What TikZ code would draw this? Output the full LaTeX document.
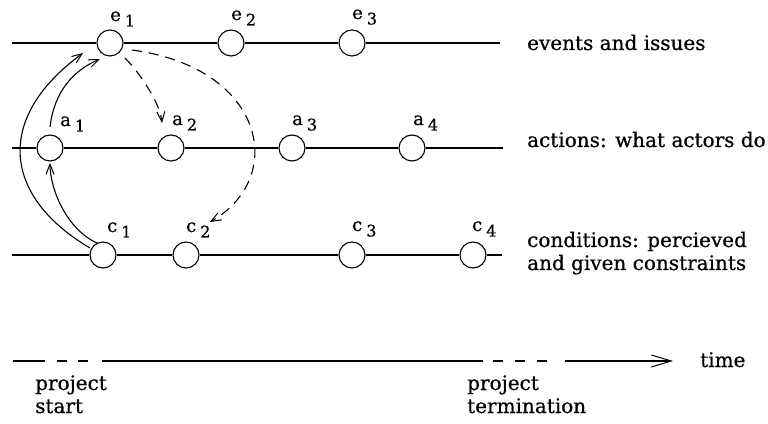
\documentclass[tikz,border=0pt]{standalone}
\usepackage{fontspec}
\setmainfont{DejaVu Serif}[FakeBold=0.6]
\usetikzlibrary{arrows.meta,calc}
\newcommand\evlab[2]{#1\kern4pt\raisebox{-5.5pt}{\fontsize{16}{18}\selectfont #2}}
\begin{document}
\begin{tikzpicture}[x=1pt,y=1pt,
  ev/.style={circle,draw,fill=white,minimum size=26pt,inner sep=0pt,line width=1.1pt},
  lbl/.style={anchor=base west,inner sep=0pt,font=\fontsize{18}{20}\selectfont},
  txt/.style={anchor=base west,inner sep=0pt,font=\fontsize{20}{24}\selectfont},
  conn/.style={line width=1.1pt},
  arr/.style={conn,-{Straight Barb[length=10pt,width=8pt,line width=1pt]}},
  darr/.style={arr,dash pattern=on 10pt off 7pt},
  tarr/.style={conn,-{Straight Barb[length=20pt,width=12pt,line width=1pt]}},
]
\useasboundingbox (0,0) rectangle (768,423);
% row end points
\coordinate (eL) at (12,380); \coordinate (eR) at (500,380);
\coordinate (aL) at (12,275); \coordinate (aR) at (503,275);
\coordinate (cL) at (12,168); \coordinate (cR) at (502,168);
% nodes
\node[ev] (e1) at (110,380) {};
\node[ev] (e2) at (231,380) {};
\node[ev] (e3) at (352,380) {};
\node[ev] (a1) at (50,275) {};
\node[ev] (a2) at (171,275) {};
\node[ev] (a3) at (292,275) {};
\node[ev] (a4) at (412,275) {};
\node[ev] (c1) at (103,168) {};
\node[ev] (c2) at (186,168) {};
\node[ev] (c3) at (352,168) {};
\node[ev] (c4) at (473,168) {};
% row lines
\draw[conn] (eL) -- (e1) -- (e2) -- (e3) -- (eR);
\draw[conn] (aL) -- (a1) -- (a2) -- (a3) -- (a4) -- (aR);
\draw[conn] (cL) -- (c1) -- (c2) -- (c3) -- (c4) -- (cR);
% labels of events
\node[lbl] (e1l) at ($(e1)+(0,22)$) {\evlab{e}{1}};
\node[lbl] (e2l) at ($(e2)+(0,23)$) {\evlab{e}{2}};
\node[lbl] (e3l) at ($(e3)+(0,24)$) {\evlab{e}{3}};
\node[lbl] (a1l) at ($(a1)+(10,22)$) {\evlab{a}{1}};
\node[lbl] (a2l) at ($(a2)+(1,23)$) {\evlab{a}{2}};
\node[lbl] (a3l) at ($(a3)+(0,23)$) {\evlab{a}{3}};
\node[lbl] (a4l) at ($(a4)+(1,23)$) {\evlab{a}{4}};
\node[lbl] (c1l) at ($(c1)+(4,23)$) {\evlab{c}{1}};
\node[lbl] (c2l) at ($(c2)+(0,23)$) {\evlab{c}{2}};
\node[lbl] (c3l) at ($(c3)+(0,24)$) {\evlab{c}{3}};
\node[lbl] (c4l) at ($(c4)+(-1,24)$) {\evlab{c}{4}};
% connectors
\draw[arr] ($(c1)+(-13,7)$) .. controls (5,225) and (-8,303) .. ($(e1)+(-27,-10)$);
\draw[arr] ($(a1)+(0,21)$) .. controls (54,330) and (72,352) .. ($(e1)+(-10,-16)$);
\draw[arr] ($(c1)+(-6,12)$) .. controls (66,194) and (50,235) .. ($(a1)+(0,-15)$);
\draw[darr] ($(e1)+(15,-15)$) .. controls (140,350) and (160,320) .. ($(a2)+(-9,25)$);
\draw[darr] ($(e1)+(22,-7)$) .. controls (266,355) and (287,245) .. ($(c2)+(24,33)$);
% row texts
\node[txt] (tev) at (527,373) {events and issues};
\node[txt] (tac) at (527,276) {actions: what actors do};
\node[txt] (tco1) at (527,176) {conditions: percieved};
\node[txt] (tco2) at (527,153) {and given constraints};
% time line
\draw[conn] (13,62) -- (45,62);
\draw[conn] (57,62) -- (67,62);
\draw[conn] (78,62) -- (88,62);
\draw[conn] (102,62) -- (483,62);
\draw[conn] (493,62) -- (503,62);
\draw[conn] (515,62) -- (525,62);
\draw[conn] (537,62) -- (547,62);
\coordinate (tS) at (565,62);
\coordinate (tE) at (673,62);
\draw[tarr] (tS) -- (tE);
\node[txt] (time) at (700,56) {time};
\node[txt] (ps1) at (35,33) {project};
\node[txt] (ps2) at (35,10) {start};
\node[txt] (pt1) at (467,33) {project};
\node[txt] (pt2) at (467,10) {termination};
\end{tikzpicture}
\end{document}
